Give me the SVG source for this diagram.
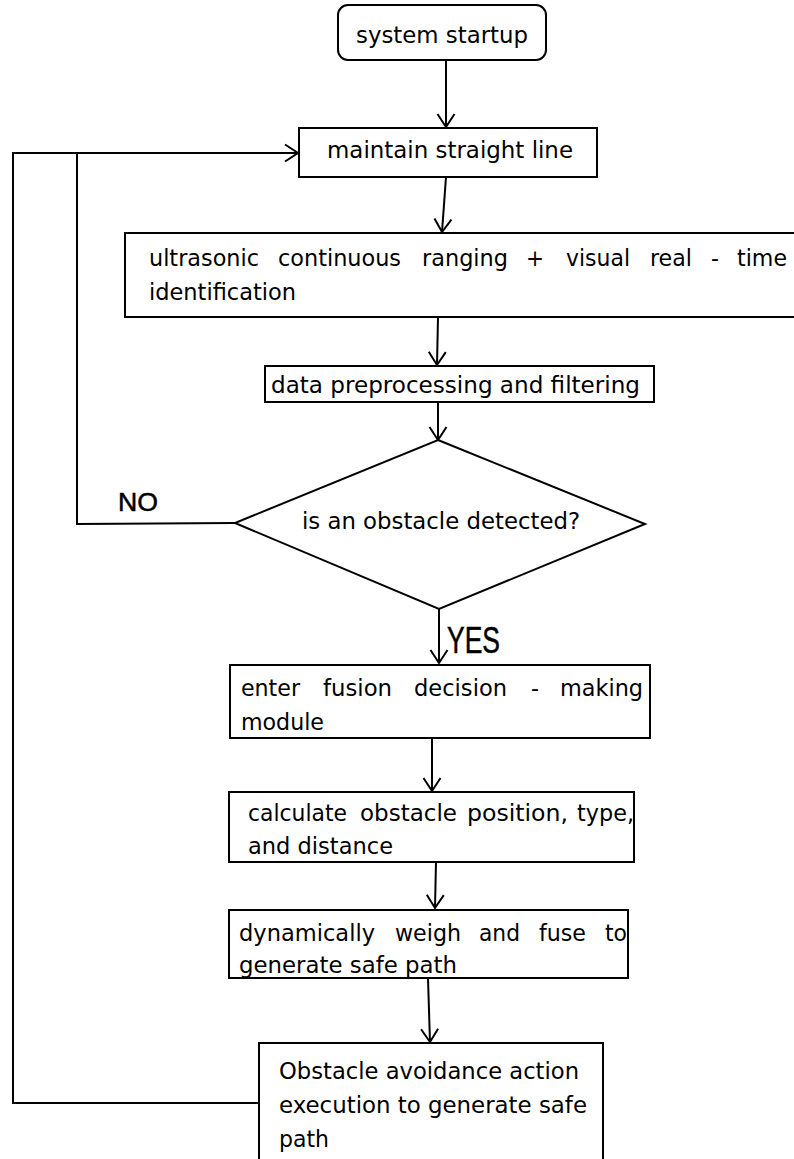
<svg xmlns="http://www.w3.org/2000/svg" width="794" height="1159" viewBox="0 0 794 1159">
<style>
.box{fill:#fff;stroke:#000;stroke-width:2}
.t{font-family:"DejaVu Sans","Verdana",sans-serif;font-size:23px;fill:#000}
.lbl{font-family:"Liberation Sans","Arial",sans-serif;fill:#000;stroke:#000;stroke-width:0.5}
.c{fill:none;stroke:#000;stroke-width:2}
</style>
<defs>
<marker id="ah" markerUnits="userSpaceOnUse" viewBox="-16 -12 20 24" refX="0" refY="0" markerWidth="20" markerHeight="24" orient="auto" overflow="visible">
<path d="M-13,-8.5 L0,0 L-13,8.5" fill="none" stroke="#000" stroke-width="2"/>
</marker>
</defs>
<rect width="794" height="1159" fill="#fff"/>

<g id="connectors">
<path class="c" d="M446,61 V127" marker-end="url(#ah)"/>
<path class="c" d="M446,177 L442,232" marker-end="url(#ah)"/>
<path class="c" d="M438,317 L437,365" marker-end="url(#ah)"/>
<path class="c" d="M438,402 V440" marker-end="url(#ah)"/>
<path class="c" d="M439,609 V663" marker-end="url(#ah)"/>
<path class="c" d="M432,738 V791" marker-end="url(#ah)"/>
<path class="c" d="M436,862 L435,908" marker-end="url(#ah)"/>
<path class="c" d="M428,978 L430,1042" marker-end="url(#ah)"/>
<path class="c" d="M259,1103 H13 V153 H298" marker-end="url(#ah)"/>
<path class="c" d="M235,523 L77,524 V153"/>
<text class="lbl" x="118" y="511" font-size="25" textLength="40" lengthAdjust="spacingAndGlyphs">NO</text>
<text class="lbl" x="447" y="653" font-size="36" textLength="53" lengthAdjust="spacingAndGlyphs">YES</text>
</g>

<g id="start">
<rect class="box" x="338" y="5" width="208" height="55" rx="10"/>
<text class="t" x="356" y="43" textLength="172" lengthAdjust="spacingAndGlyphs">system startup</text>
</g>

<g id="straight">
<rect class="box" x="299" y="128" width="298" height="49"/>
<text class="t" x="327" y="158" textLength="246" lengthAdjust="spacingAndGlyphs">maintain straight line</text>
</g>

<g id="ranging">
<rect class="box" x="125" y="233" width="680" height="84"/>
<text class="t" x="149" y="266" textLength="110" lengthAdjust="spacingAndGlyphs">ultrasonic</text>
<text class="t" x="278" y="266" textLength="123" lengthAdjust="spacingAndGlyphs">continuous</text>
<text class="t" x="422" y="266" textLength="86" lengthAdjust="spacingAndGlyphs">ranging</text>
<text class="t" x="526" y="266" textLength="18" lengthAdjust="spacingAndGlyphs">+</text>
<text class="t" x="566" y="266" textLength="64" lengthAdjust="spacingAndGlyphs">visual</text>
<text class="t" x="650" y="266" textLength="42" lengthAdjust="spacingAndGlyphs">real</text>
<text class="t" x="711" y="266" textLength="8" lengthAdjust="spacingAndGlyphs">-</text>
<text class="t" x="737" y="266" textLength="50" lengthAdjust="spacingAndGlyphs">time</text>
<text class="t" x="149" y="300" textLength="147" lengthAdjust="spacingAndGlyphs">identification</text>
</g>

<g id="filter">
<rect class="box" x="265" y="366" width="389" height="36"/>
<text class="t" x="271" y="393" textLength="369" lengthAdjust="spacingAndGlyphs">data preprocessing and filtering</text>
</g>

<g id="decision">
<polygon class="box" points="438,440 645,524 439,609 235,523"/>
<text class="t" x="302" y="529" textLength="278" lengthAdjust="spacingAndGlyphs">is an obstacle detected?</text>
</g>

<g id="fusion">
<rect class="box" x="230" y="665" width="420" height="73"/>
<text class="t" x="241" y="696" textLength="59" lengthAdjust="spacingAndGlyphs">enter</text>
<text class="t" x="323" y="696" textLength="69" lengthAdjust="spacingAndGlyphs">fusion</text>
<text class="t" x="414" y="696" textLength="93" lengthAdjust="spacingAndGlyphs">decision</text>
<text class="t" x="531" y="696" textLength="8" lengthAdjust="spacingAndGlyphs">-</text>
<text class="t" x="560" y="696" textLength="83" lengthAdjust="spacingAndGlyphs">making</text>
<text class="t" x="241" y="730" textLength="83" lengthAdjust="spacingAndGlyphs">module</text>
</g>

<g id="calculate">
<rect class="box" x="229" y="792" width="405" height="70"/>
<text class="t" x="248" y="821" textLength="99" lengthAdjust="spacingAndGlyphs">calculate</text>
<text class="t" x="360" y="821" textLength="97" lengthAdjust="spacingAndGlyphs">obstacle</text>
<text class="t" x="467" y="821" textLength="101" lengthAdjust="spacingAndGlyphs">position,</text>
<text class="t" x="577" y="821" textLength="57" lengthAdjust="spacingAndGlyphs">type,</text>
<text class="t" x="248" y="854" textLength="145" lengthAdjust="spacingAndGlyphs">and distance</text>
</g>

<g id="weigh">
<rect class="box" x="229" y="910" width="399" height="68"/>
<text class="t" x="239" y="941" textLength="136" lengthAdjust="spacingAndGlyphs">dynamically</text>
<text class="t" x="395" y="941" textLength="66" lengthAdjust="spacingAndGlyphs">weigh</text>
<text class="t" x="479" y="941" textLength="41" lengthAdjust="spacingAndGlyphs">and</text>
<text class="t" x="539" y="941" textLength="47" lengthAdjust="spacingAndGlyphs">fuse</text>
<text class="t" x="605" y="941" textLength="22" lengthAdjust="spacingAndGlyphs">to</text>
<text class="t" x="239" y="973" textLength="218" lengthAdjust="spacingAndGlyphs">generate safe path</text>
</g>

<g id="avoid">
<rect class="box" x="259" y="1043" width="344" height="130"/>
<text class="t" x="279" y="1079" textLength="300" lengthAdjust="spacingAndGlyphs">Obstacle avoidance action</text>
<text class="t" x="279" y="1113" textLength="308" lengthAdjust="spacingAndGlyphs">execution to generate safe</text>
<text class="t" x="279" y="1147" textLength="50" lengthAdjust="spacingAndGlyphs">path</text>
</g>
</svg>
